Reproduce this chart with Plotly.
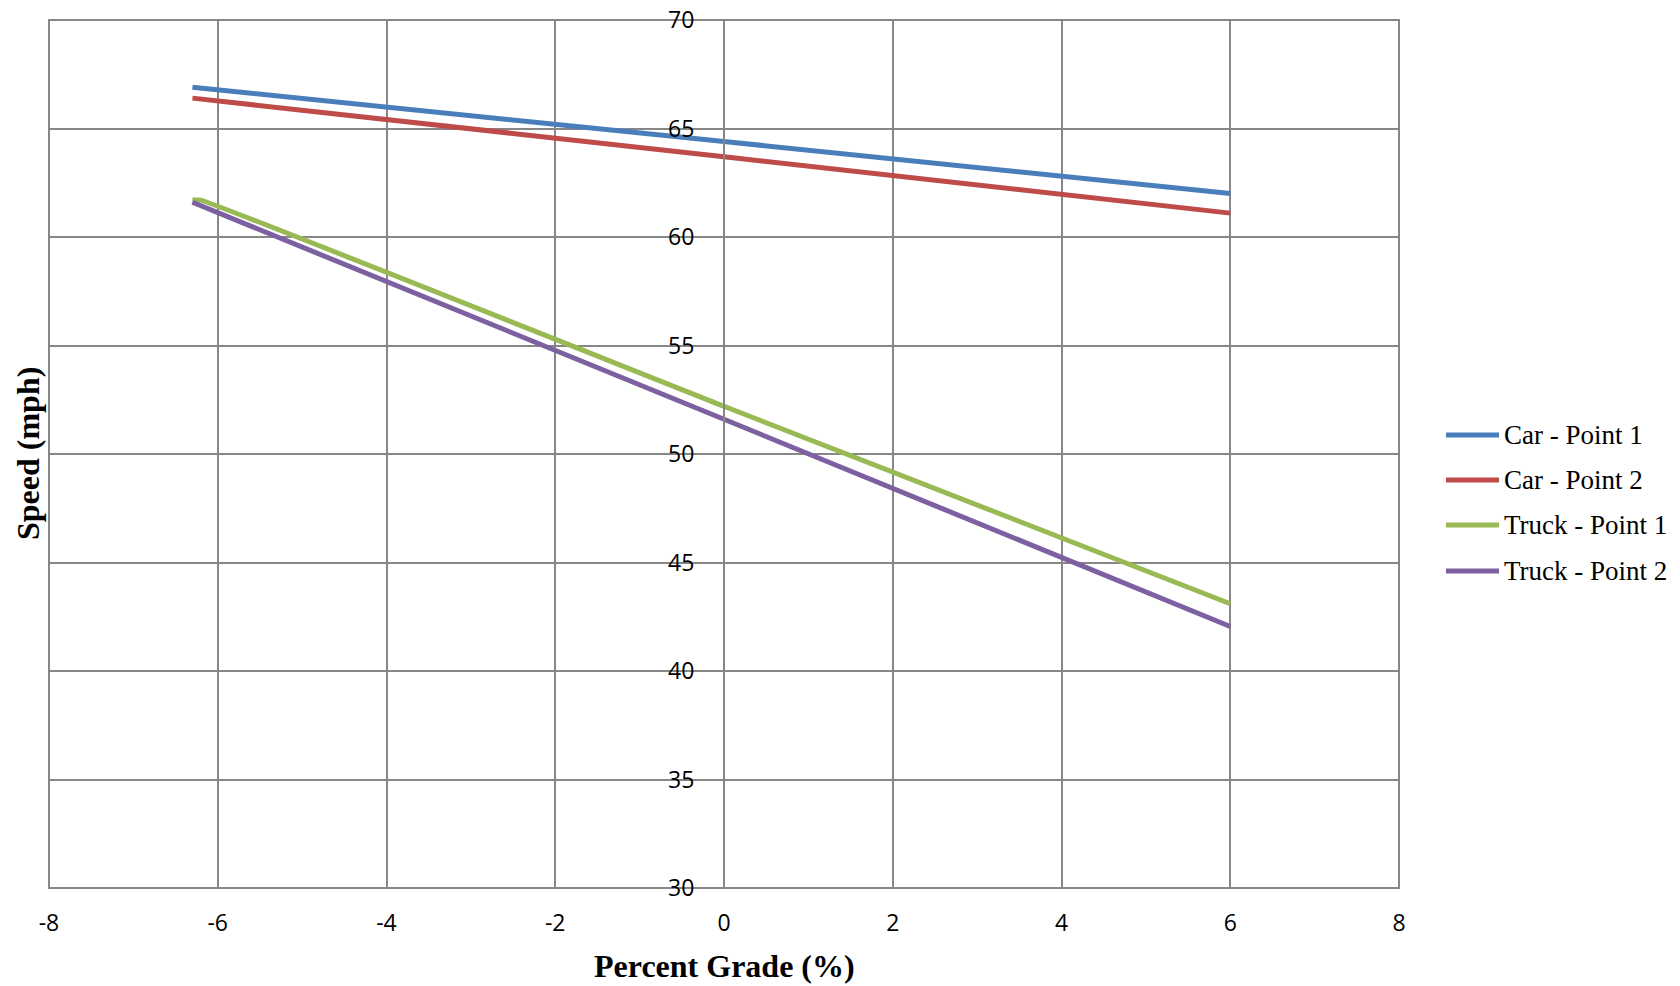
import plotly.graph_objects as go

# Speed vs. grade, read at the ends of each fitted line
grade = [-6.3, 0, 6]
car_p1 = [66.9, 64.4, 62.0]
car_p2 = [66.4, 63.7, 61.1]
truck_p1_grade = [-6.3, -6.2, 0, 6]
truck_p1 = [61.7, 61.7, 52.2, 43.1]
truck_p2 = [61.6, 51.6, 42.05]

series_names = ["Car - Point 1", "Car - Point 2", "Truck - Point 1", "Truck - Point 2"]
series_colors = ["#4A7EBB", "#BE4B48", "#98B954", "#7D60A0"]

x_ticks = [-8, -6, -4, -2, 0, 2, 4, 6, 8]
y_ticks = [30, 35, 40, 45, 50, 55, 60, 65, 70]

W, H = 1680, 986
L, R, T, B = 49, 281, 20, 98
PW, PH = W - L - R, H - T - B
GRID = "#878787"


def px_x(px):
    return (px - L) / PW


def px_y(py):
    return (H - B - py) / PH


fig = go.Figure()
xs = [grade, grade, truck_p1_grade, grade]
ys = [car_p1, car_p2, truck_p1, truck_p2]
for name, color, x, y in zip(series_names, series_colors, xs, ys):
    fig.add_trace(go.Scatter(x=x, y=y, mode="lines", name=name,
                             line=dict(color=color, width=5, shape="spline", smoothing=0.3),
                             showlegend=False))

# Legend drawn as short line swatches with serif labels
legend_rows = [435, 480, 525, 571]
for name, color, ry in zip(series_names, series_colors, legend_rows):
    fig.add_shape(type="line", xref="paper", yref="paper",
                  x0=px_x(1446), x1=px_x(1499), y0=px_y(ry), y1=px_y(ry),
                  line=dict(color=color, width=5))
    fig.add_annotation(xref="paper", yref="paper", x=px_x(1502), y=px_y(ry),
                       xanchor="left", yanchor="middle", showarrow=False,
                       text=name, font=dict(family="Liberation Serif", size=27, color="#000"))

# Plot frame
fig.add_shape(type="rect", xref="x domain", yref="y domain", x0=0, x1=1, y0=0, y1=1,
              line=dict(color=GRID, width=2), layer="below")

fig.add_annotation(xref="paper", yref="paper", x=0.5, y=px_y(966),
                   xanchor="center", yanchor="middle", showarrow=False,
                   text="<b>Percent Grade (%)</b>",
                   font=dict(family="Liberation Serif", size=32, color="#000"))
fig.add_annotation(xref="paper", yref="paper", x=px_x(28), y=0.5,
                   xanchor="center", yanchor="middle", showarrow=False, textangle=-90,
                   text="<b>Speed (mph)</b>",
                   font=dict(family="Liberation Serif", size=32, color="#000"))

tick_font = dict(family="Open Sans", size=23, color="#000")
fig.update_layout(
    width=W, height=H,
    margin=dict(l=L, r=R, t=T, b=B, autoexpand=False),
    paper_bgcolor="white", plot_bgcolor="white",
    xaxis=dict(range=[-8, 8], tickvals=x_ticks, ticktext=[str(v) for v in x_ticks],
               showgrid=True, gridcolor=GRID, gridwidth=2, zeroline=False,
               showline=False, ticks="", tickfont=tick_font, ticklabelstandoff=19,
               automargin=False, fixedrange=True),
    yaxis=dict(range=[30, 70], tickvals=y_ticks, ticktext=[str(v) for v in y_ticks],
               showgrid=True, gridcolor=GRID, gridwidth=2, zeroline=False,
               showline=True, linecolor=GRID, linewidth=2,
               anchor="free", position=0.5, ticks="", tickfont=tick_font,
               ticklabelstandoff=24, automargin=False, fixedrange=True),
)

fig.write_html("out.html")
